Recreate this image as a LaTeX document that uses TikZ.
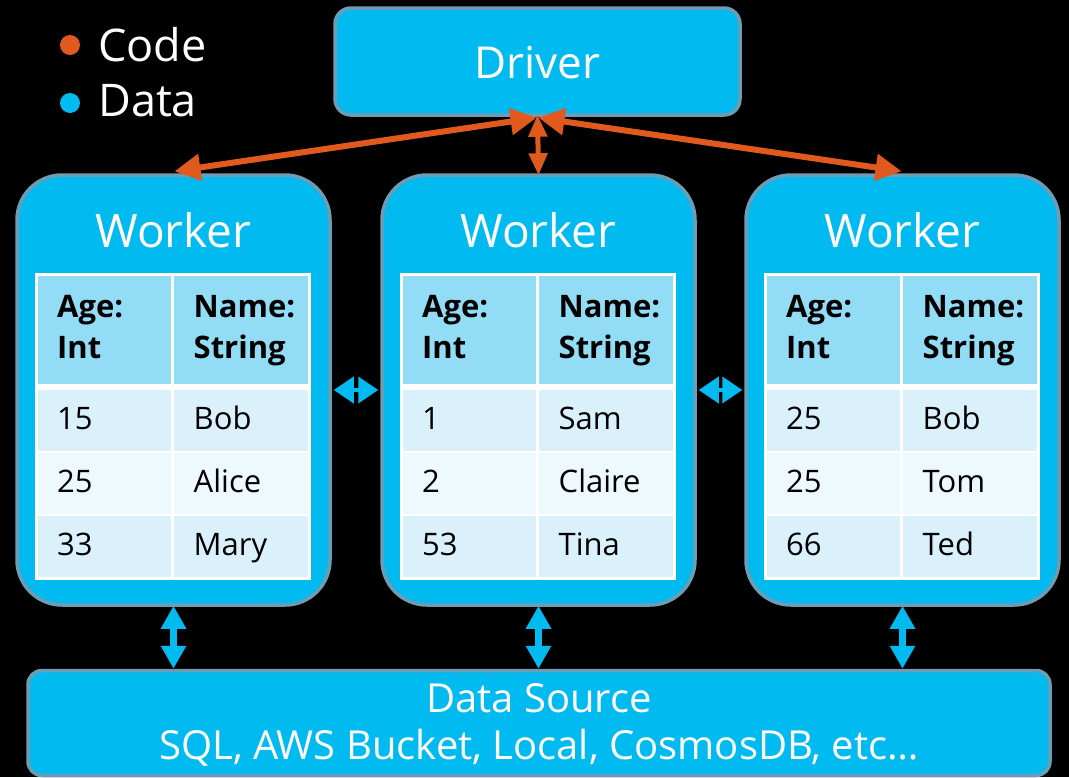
\documentclass[tikz,border=0pt]{standalone}
\usepackage{fontspec}
\setmainfont{Open Sans}
\usetikzlibrary{arrows.meta}

\definecolor{cyanfill}{HTML}{00BAF0}
\definecolor{edgegray}{HTML}{6E9CB4}
\definecolor{headcell}{HTML}{93DCF6}
\definecolor{rowa}{HTML}{DAF1FC}
\definecolor{rowb}{HTML}{EEF9FE}
\definecolor{codeorange}{HTML}{E05A1E}

\tikzset{
  panel/.style={draw=edgegray, line width=3.5pt, fill=cyanfill, inner sep=0pt},
  title/.style={text=white, font=\fontsize{46}{50}\selectfont, inner sep=0pt},
  backing/.style={fill=white, inner sep=0pt, anchor=north west},
  cell/.style={inner xsep=19pt, inner ysep=0pt, anchor=north west, text width=95pt,
    align=left, font=\fontsize{31}{41}\selectfont, text=black},
  headcellstyle/.style={cell, fill=headcell, minimum height=108pt, text height=23pt, text depth=49pt,
    font=\fontsize{31}{41}\selectfont\bfseries},
  rowcellstyle/.style={cell, minimum height=61pt, text height=22pt, text depth=5pt},
  codearrow/.style={draw=codeorange, line width=6pt, {Triangle[length=26pt,width=26pt]}-{Triangle[length=26pt,width=26pt]}},
  codeshort/.style={draw=codeorange, line width=5pt, {Triangle[length=22pt,width=18pt]}-{Triangle[length=22pt,width=18pt]}},
  dataarrow/.style={draw=cyanfill, line width=7pt, {Triangle[length=23pt,width=24pt]}-{Triangle[length=23pt,width=24pt]}},
  sidearrow/.style={draw=cyanfill, line width=4pt, {Triangle[length=20pt,width=26pt]}-{Triangle[length=20pt,width=26pt]}},
  legenddot/.style={circle, inner sep=0pt, minimum size=20pt},
  legendtext/.style={text=white, font=\fontsize{45}{50}\selectfont, anchor=west, inner sep=0pt}
}

% One worker: rounded panel, title and a two-column table
% #1 name, #2 left edge, #3..#8 table entries
\newcommand\workerpanel[8]{%
  \node[panel, rounded corners=45pt, minimum width=313pt, minimum height=430pt] (#1) at (#2+156.5,390) {};
  \node[title] (#1-title) at (#2+156.5,230) {Worker};
  \node[backing, minimum width=276pt, minimum height=307pt] (#1-tab) at (#2+18,273) {};
  \node[headcellstyle, minimum width=133pt] (#1-h1) at (#2+21,276) {Age:\\Int};
  \node[headcellstyle, minimum width=134pt] (#1-h2) at (#2+157,276) {Name:\\String};
  \node[rowcellstyle, fill=rowa, minimum width=133pt] (#1-a1) at (#2+21,390) {#3};
  \node[rowcellstyle, fill=rowa, minimum width=134pt] (#1-n1) at (#2+157,390) {#4};
  \node[rowcellstyle, fill=rowb, minimum width=133pt] (#1-a2) at (#2+21,453) {#5};
  \node[rowcellstyle, fill=rowb, minimum width=134pt] (#1-n2) at (#2+157,453) {#6};
  \node[rowcellstyle, fill=rowa, minimum width=133pt] (#1-a3) at (#2+21,516) {#7};
  \node[rowcellstyle, fill=rowa, minimum width=134pt] (#1-n3) at (#2+157,516) {#8};
}

\begin{document}
\begin{tikzpicture}[x=1pt, y=-1pt]
  \fill[black] (0,0) rectangle (1069,777);
  \useasboundingbox (0,0) rectangle (1069,777);

  % legend
  \node[legenddot, fill=codeorange] (dotcode) at (70,45) {};
  \node[legenddot, fill=cyanfill] (dotdata) at (70,103) {};
  \node[legendtext] (lcode) at (98,45) {Code};
  \node[legendtext] (ldata) at (98,101) {Data};

  % driver
  \node[panel, rounded corners=16pt, minimum width=405pt, minimum height=107pt] (drv) at (537.5,61.5) {};
  \node[title, font=\fontsize{44}{48}\selectfont] (drv-title) at (537.5,63) {Driver};

  % workers
  \workerpanel{w1}{17}{15}{Bob}{25}{Alice}{33}{Mary}
  \workerpanel{w2}{382}{1}{Sam}{2}{Claire}{53}{Tina}
  \workerpanel{w3}{746}{25}{Bob}{25}{Tom}{66}{Ted}

  % data source
  \node[panel, rounded corners=14pt, minimum width=1022pt, minimum height=105pt] (ds) at (539,723) {};
  \node[text=white, font=\fontsize{40}{47}\selectfont, align=center, inner sep=0pt] (ds-title) at (539,725)
    {Data Source\\SQL, AWS Bucket, Local, CosmosDB, etc\dots};

  % code flow between driver and workers
  \draw[codearrow] ([xshift=-1pt,yshift=-1pt]drv.south) -- ([xshift=1pt,yshift=2pt]w1.north);
  \draw[codearrow] ([xshift=1pt,yshift=-1pt]drv.south) -- ([xshift=-1pt,yshift=2pt]w3.north);
  \draw[codeshort] ([yshift=2pt]drv.south) -- ([yshift=-2pt]w2.north);

  % data flow between workers
  \draw[sidearrow] ([xshift=2pt]w1.east) -- ([xshift=-2pt]w2.west);
  \draw[sidearrow] ([xshift=2pt]w2.east) -- ([xshift=-2pt]w3.west);

  % data flow between workers and the data source
  \draw[dataarrow] ([yshift=1pt]w1.south) -- (w1.south |- ds.north);
  \draw[dataarrow] ([yshift=1pt]w2.south) -- (w2.south |- ds.north);
  \draw[dataarrow] ([yshift=1pt]w3.south) -- (w3.south |- ds.north);
\end{tikzpicture}
\end{document}
